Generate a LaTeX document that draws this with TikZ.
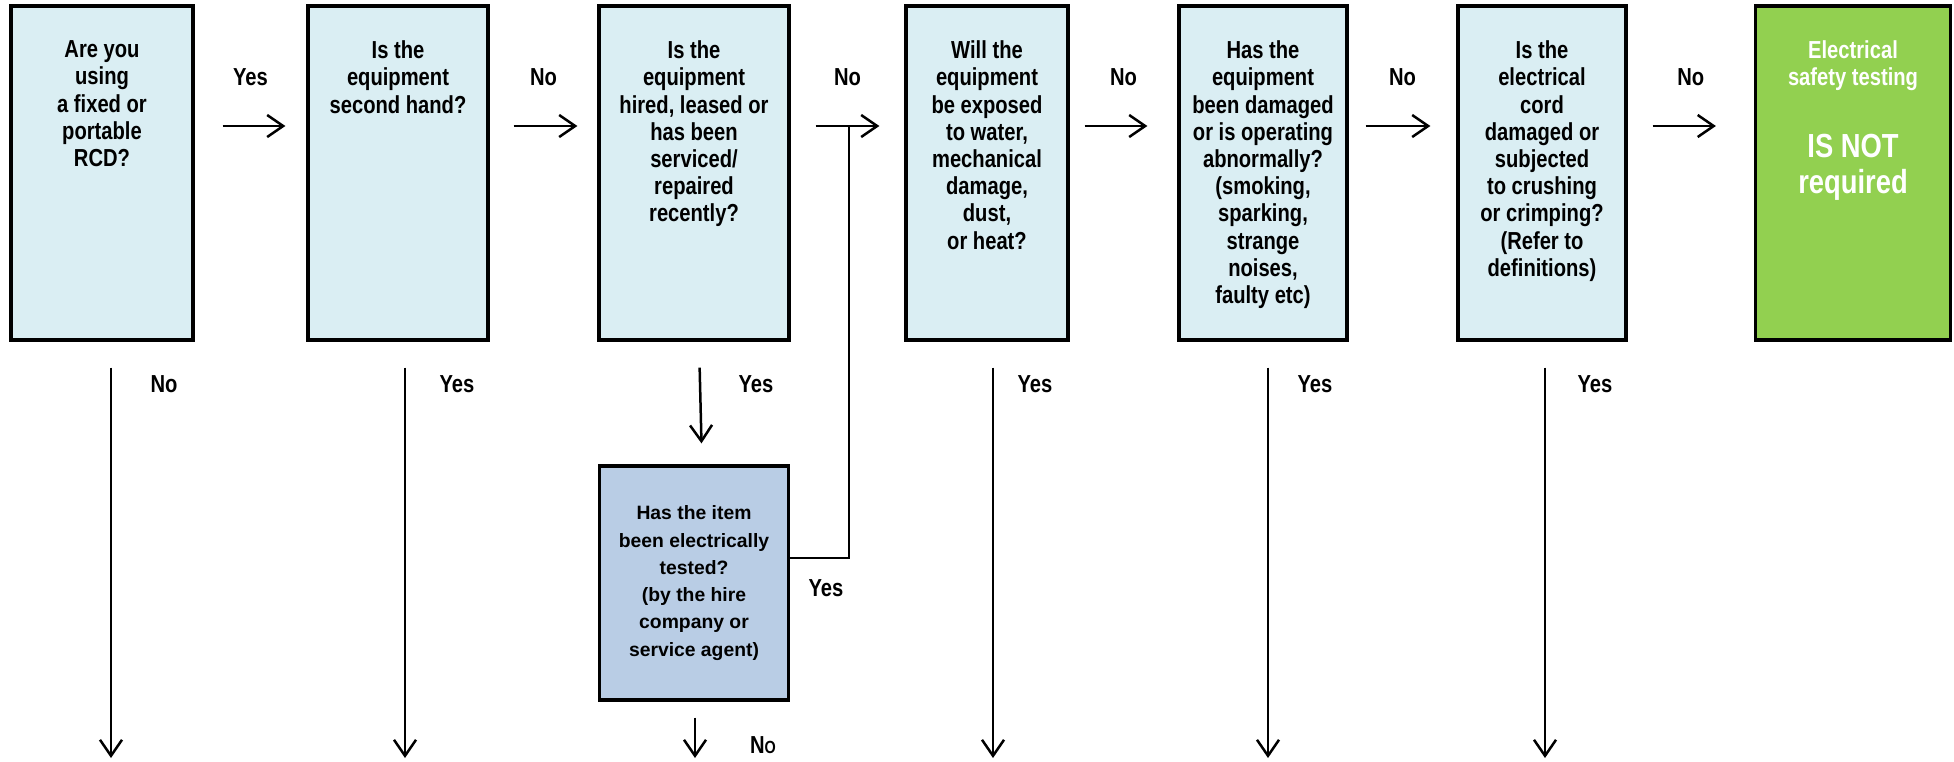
\documentclass[tikz,border=0pt]{standalone}
\usepackage{fontspec}
\setmainfont{Liberation Sans}[FakeStretch=0.82]
\newfontfamily\plainsans{Liberation Sans}
\usetikzlibrary{positioning}
\usetikzlibrary{arrows.meta}

\definecolor{qblue}{HTML}{DAEEF3}
\definecolor{hblue}{HTML}{B9CDE5}
\definecolor{okgreen}{HTML}{92D050}

\tikzset{
  question/.style={draw, line width=0.65mm, fill=qblue, minimum height=66.8mm, inner sep=0},
  qtext/.style={align=center, inner sep=0, font=\bfseries\fontsize{14}{15.5}\selectfont},
  answer/.style={inner sep=0, font=\bfseries\fontsize{14}{15.5}\selectfont},
  arr/.style={-{Straight Barb[length=3.2mm,width=4.4mm]}, line width=0.5mm},
}

\begin{document}
\begin{tikzpicture}[x=0.2mm, y=-0.2mm]
\useasboundingbox (0,0) rectangle (1954,761);

% top row of questions
\node[question, minimum width=36.4mm] (b1) at (102,173) {};
\node[question, minimum width=36mm] (b2) at (398,173) {};
\node[question, minimum width=38mm] (b3) at (694,173) {};
\node[question, minimum width=32.4mm] (b4) at (987,173) {};
\node[question, minimum width=33.6mm] (b5) at (1263,173) {};
\node[question, minimum width=33.6mm] (b6) at (1542,173) {};
\node[question, minimum width=39mm, fill=okgreen] (b7) at (1853,173) {};

\node[qtext, below=7.2mm of b1.north] (t1) {Are you\\using\\a fixed or\\portable\\RCD?};
\node[qtext, below=7.2mm of b2.north] (t2) {Is the\\equipment\\second hand?};
\node[qtext, below=7.2mm of b3.north] (t3) {Is the\\equipment\\hired, leased or\\has been\\serviced/\\repaired\\recently?};
\node[qtext, below=7.2mm of b4.north] (t4) {Will the\\equipment\\be exposed\\to water,\\mechanical\\damage,\\dust,\\or heat?};
\node[qtext, below=7.2mm of b5.north] (t5) {Has the\\equipment\\been damaged\\or is operating\\abnormally?\\(smoking,\\sparking,\\strange\\noises,\\faulty etc)};
\node[qtext, below=7.2mm of b6.north] (t6) {Is the\\electrical\\cord\\damaged or\\subjected\\to crushing\\or crimping?\\(Refer to\\definitions)};
\node[qtext, text=white, below=7.2mm of b7.north] (t7) {Electrical\\safety testing};
\node[qtext, text=white, font=\bfseries\fontsize{19}{20.5}\selectfont, below=25.8mm of b7.north] (t8) {IS NOT\\required};

% hire / service check
\node[question, minimum width=37.8mm, minimum height=46.8mm, fill=hblue, align=center,
  font=\plainsans\bfseries\fontsize{11}{15.5}\selectfont] (b8) at (694,583)
  {Has the item\\been electrically\\tested?\\(by the hire\\company or\\service agent)};

% answers along the row
\coordinate (row) at (0,126);
\foreach \a/\b/\s/\e/\t [count=\i] in {b1/b2/5.6mm/4.2mm/Yes, b2/b3/4.8mm/4mm/No, b3/b4/5mm/5mm/No,
    b4/b5/3mm/6mm/No, b5/b6/3.4mm/5.2mm/No, b6/b7/5mm/7.6mm/No}
  \draw[arr, shorten <=\s, shorten >=\e] (\a.east |- row) -- (\b.west |- row)
    node[answer, midway, yshift=9.8mm] (h\i) {\t};

% answers going down
\foreach \b/\x/\d/\t [count=\i] in {b1/111/10.6mm/No, b2/405/10.4mm/Yes, b4/993/8.4mm/Yes,
    b5/1268/9.4mm/Yes, b6/1545/10mm/Yes}{
  \coordinate (o\i) at (\x,758);
  \draw[arr, shorten <=5.2mm] (\b.south -| o\i) -- (o\i)
    node[answer, at start, xshift=\d, yshift=-8.6mm] (d\i) {\t};
}

\draw[arr, shorten <=5.2mm, shorten >=4.2mm] ([xshift=1mm]b3.south) -- ([xshift=1.6mm]b8.north)
  node[answer, at start, xshift=11.4mm, yshift=-8.6mm] (d6) {Yes};

\coordinate (o6) at (695,758);
\draw[arr, shorten <=3.2mm] (b8.south -| o6) -- (o6)
  node[answer, at end, xshift=13.6mm, yshift=2.6mm] (d7) {N{\fontsize{10}{12}\selectfont O}};

% tested items rejoin the main line
\coordinate (j) at (849,126);
\draw[line width=0.5mm] ([yshift=5mm]b8.east) -| (j);
\node[answer] (y8) at (826,588) {Yes};
\end{tikzpicture}
\end{document}
